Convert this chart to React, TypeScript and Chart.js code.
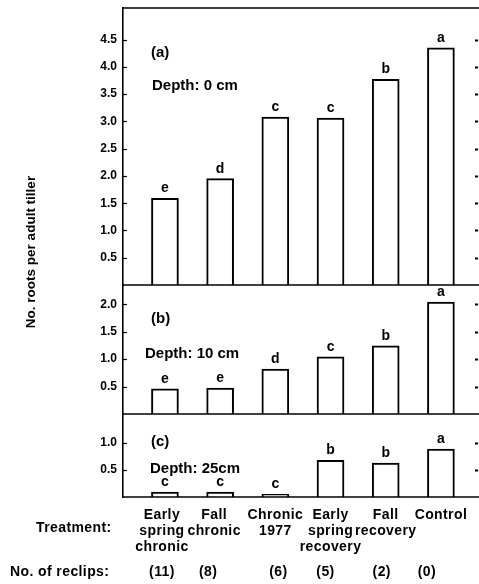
import React, { useEffect, useRef } from "react";
import { Chart, registerables } from "chart.js";

Chart.register(...registerables);

// ---- data ----
const treatmentLines: string[][] = [
  ["Early", "spring", "chronic"],
  ["Fall", "chronic"],
  ["Chronic", "1977"],
  ["Early", "spring", "recovery"],
  ["Fall", "recovery"],
  ["Control"],
];
const reclips = ["(11)", "(8)", "(6)", "(5)", "(2)", "(0)"];

const depth0 = [1.59, 1.95, 3.08, 3.06, 3.77, 4.35];
const letters0 = ["e", "d", "c", "c", "b", "a"];
const depth10 = [0.46, 0.47, 0.82, 1.04, 1.24, 2.04];
const letters10 = ["e", "e", "d", "c", "b", "a"];
const depth25 = [0.09, 0.09, 0.05, 0.68, 0.63, 0.89];
const letters25 = ["c", "c", "c", "b", "b", "a"];

const ticksTop = [0.5, 1, 1.5, 2, 2.5, 3, 3.5, 4, 4.5];
const ticksMid = [0.5, 1, 1.5, 2];
const ticksBot = [0.5, 1];

const panelTags = ["(a)", "(b)", "(c)"];
const panelDepths = ["Depth: 0 cm", "Depth: 10 cm", "Depth: 25cm"];

const yTitle = "No. roots per adult tiller";
const treatmentTitle = "Treatment:";
const reclipsTitle = "No. of reclips:";

const FONT = "'Liberation Sans', Arial, Helvetica, sans-serif";

function mkY(max: number, ticksArr: number[], weight: number) {
  return {
    type: "linear" as const,
    position: "left" as const,
    stack: "panels",
    stackWeight: weight,
    min: 0,
    max,
    grid: { display: false, drawTicks: false },
    border: { display: true, color: "#000", width: 1.6 },
    ticks: {
      color: "#000",
      padding: 6,
      autoSkip: false,
      font: { family: FONT, size: 12, weight: "bold" as const },
      callback: (v: any) => Number(v).toFixed(1),
    },
    afterBuildTicks: (s: any) => {
      s.ticks = ticksArr.map((v) => ({ value: v }));
    },
    afterFit: (s: any) => {
      s.width = 123;
      s.paddingTop = 0;
      s.paddingBottom = 0;
    },
  };
}

const annotPlugin = {
  id: "annot",
  afterDraw(chart: any) {
    const ctx = chart.ctx as CanvasRenderingContext2D;
    const ca = chart.chartArea;
    const xs = chart.scales.x;
    const yIds = ["yTop", "yMid", "yBot"];
    const letters = [letters0, letters10, letters25];
    const tagOff = [
      { tx: 28, ty: 45, dx: 29, dy: 78 },
      { tx: 28, ty: 34, dx: 22, dy: 69 },
      { tx: 28, ty: 28, dx: 27, dy: 55 },
    ];
    const labelDx = [-3, -6, 0, 0, 0, 0];
    const reclipDx = [-3, -12, 3, -5, -4, -14];
    ctx.save();
    ctx.strokeStyle = "#000";
    ctx.fillStyle = "#000";
    // top border
    ctx.lineWidth = 1.6;
    ctx.beginPath();
    ctx.moveTo(ca.left, ca.top);
    ctx.lineTo(ca.right, ca.top);
    ctx.stroke();

    yIds.forEach((id, p) => {
      const s = chart.scales[id];
      const y0 = s.getPixelForValue(0);
      ctx.lineWidth = 1.6;
      ctx.beginPath();
      ctx.moveTo(ca.left, y0);
      ctx.lineTo(ca.right, y0);
      ctx.stroke();
      // inner ticks and right dots
      s.ticks.forEach((t: any) => {
        const py = Math.round(s.getPixelForValue(t.value)) + 0.5;
        ctx.lineWidth = 1.2;
        ctx.beginPath();
        ctx.moveTo(ca.left, py);
        ctx.lineTo(ca.left + 4, py);
        ctx.stroke();
        ctx.lineWidth = 2;
        ctx.beginPath();
        ctx.moveTo(ca.right - 4, py);
        ctx.lineTo(ca.right - 1, py);
        ctx.stroke();
      });
      // panel labels
      ctx.font = `bold 15px ${FONT}`;
      ctx.textAlign = "left";
      ctx.textBaseline = "middle";
      ctx.fillText(panelTags[p], ca.left + tagOff[p].tx, s.top + tagOff[p].ty);
      ctx.fillText(panelDepths[p], ca.left + tagOff[p].dx, s.top + tagOff[p].dy);
      // significance letters
      const meta = chart.getDatasetMeta(p);
      ctx.font = `bold 14px ${FONT}`;
      ctx.textAlign = "center";
      ctx.textBaseline = "alphabetic";
      meta.data.forEach((el: any, i: number) => {
        ctx.fillText(letters[p][i], el.x, el.y - 6);
      });
    });

    // y title
    ctx.save();
    ctx.translate(31, 252);
    ctx.rotate(-Math.PI / 2);
    ctx.font = `bold 13.5px ${FONT}`;
    ctx.textAlign = "center";
    ctx.textBaseline = "middle";
    ctx.fillText(yTitle, 0, 0);
    ctx.restore();

    // bottom texts
    ctx.font = `bold 14px ${FONT}`;
    (ctx as any).letterSpacing = "0.4px";
    ctx.textBaseline = "middle";
    ctx.textAlign = "left";
    ctx.fillText(treatmentTitle, 36, 528);
    ctx.fillText(reclipsTitle, 10, 572);
    ctx.textAlign = "center";
    treatmentLines.forEach((lines, i) => {
      const cx = xs.getPixelForValue(i);
      lines.forEach((ln, k) => {
        ctx.fillText(ln, cx + labelDx[i], 515 + k * 16);
      });
      ctx.fillText(reclips[i], cx + reclipDx[i], 572);
    });
    ctx.restore();
  },
};

export default function App() {
  const ref = useRef<HTMLCanvasElement>(null);
  useEffect(() => {
    document.body.style.margin = "0";
    const ds = (vals: number[], yId: string) => ({
      data: vals.map((v, i) => ({ x: i, y: v })),
      yAxisID: yId,
      xAxisID: "x",
      backgroundColor: "#fff",
      borderColor: "#000",
      borderWidth: 2,
      barThickness: 27,
      grouped: false,
    });
    const chart = new Chart(ref.current!, {
      type: "bar",
      data: {
        datasets: [ds(depth0, "yTop"), ds(depth10, "yMid"), ds(depth25, "yBot")] as any,
      },
      options: {
        animation: false,
        responsive: false,
        devicePixelRatio: 1,
        layout: { padding: { top: 8, bottom: 87, left: 0, right: 0 } },
        plugins: { legend: { display: false }, tooltip: { enabled: false } },
        scales: {
          x: { type: "linear", min: -0.76, max: 5.69, offset: false, display: false },
          yBot: mkY(1.54, ticksBot, 83),
          yMid: mkY(2.35, ticksMid, 129),
          yTop: mkY(5.08, ticksTop, 277),
        } as any,
      },
      plugins: [annotPlugin],
    });
    return () => chart.destroy();
  }, []);
  return (
    <div style={{ width: 479, height: 584, background: "#fff" }}>
      <canvas ref={ref} width={479} height={584} style={{ display: "block" }} />
    </div>
  );
}
